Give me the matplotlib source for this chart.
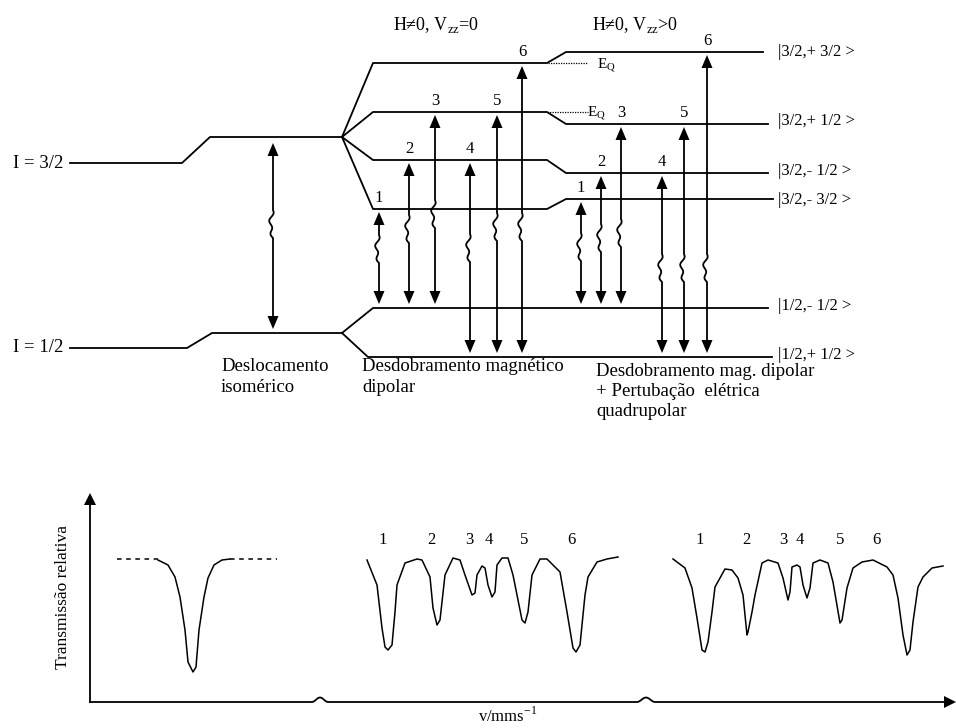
import matplotlib.pyplot as plt
import numpy as np

plt.rcParams['font.family'] = ['Liberation Serif', 'DejaVu Serif']

# --- energy levels (diagram units, y grows downward) ---
upper_free, upper_shift = 163, 137
upper_mag = [63, 112, 160, 209]      # m = +3/2, +1/2, -1/2, -3/2
upper_quad = [52, 124, 173, 199]
lower_free, lower_shift = 348, 333
lower_mag = [308, 357]               # m = -1/2, +1/2
upper_kets = ['|3/2,+ 3/2 >', '|3/2,+ 1/2 >', '|3/2,- 1/2 >', '|3/2,- 3/2 >']
lower_kets = ['|1/2,- 1/2 >', '|1/2,+ 1/2 >']

# transitions 1..6: (upper level index, lower level index)
trans_up = [3, 2, 1, 2, 1, 0]
trans_low = [0, 0, 0, 1, 1, 1]
x_mag = [379, 409, 435, 470, 497, 522]
x_quad = [581, 601, 621, 662, 684, 707]
wave_mag = [249, 229, 214, 248, 227, 227]
wave_quad = [247, 238, 233, 268, 268, 268]

# --- spectra ---
single_x = [158, 168, 175, 180, 185, 188, 193, 196, 199, 204, 208, 214, 222, 230]
single_y = [560, 565, 577, 597, 630, 662, 672, 667, 630, 597, 578, 565, 560, 559]

sext_x = [367, 377, 382, 385, 388, 392, 395, 397, 405, 417, 422, 430, 433, 437, 440,
          445, 453, 460, 465, 472, 475, 477, 482, 485, 488, 492, 495, 497, 502, 508,
          513, 522, 525, 528, 532, 540, 547, 560, 567, 573, 576, 580, 585, 588, 597,
          607, 618]
sext_y = [560, 585, 628, 647, 650, 645, 612, 585, 563, 559, 560, 577, 608, 625, 620,
          575, 558, 560, 575, 595, 593, 575, 566, 568, 585, 597, 592, 565, 558, 558,
          575, 620, 623, 612, 575, 559, 559, 572, 612, 648, 652, 645, 595, 577, 562,
          559, 557]

quad_x = [673, 685, 692, 697, 702, 705, 708, 712, 715, 725, 732, 738, 743, 747, 748,
          752, 755, 762, 768, 778, 783, 788, 790, 792, 797, 800, 803, 807, 810, 813,
          820, 828, 833, 840, 842, 847, 853, 862, 873, 887, 893, 898, 903, 907, 910,
          913, 918, 923, 932, 943]
quad_y = [559, 568, 588, 618, 650, 652, 642, 612, 587, 569, 570, 578, 595, 635, 632,
          612, 595, 563, 560, 563, 578, 600, 592, 567, 565, 567, 585, 598, 588, 563,
          560, 563, 582, 623, 620, 588, 568, 562, 560, 567, 575, 598, 635, 655, 650,
          622, 587, 577, 568, 566]

peak_labels = ['1', '2', '3', '4', '5', '6']
sext_label_x = [383, 431, 469, 489, 524, 571]
quad_label_x = [700, 746, 783, 800, 840, 876]

fig = plt.figure(figsize=(9.56, 7.28), dpi=100)
ax = fig.add_axes([0, 0, 1, 1])
ax.set_xlim(0, 956)
ax.set_ylim(728, 0)
ax.axis('off')

K = 'black'
LW = 1.3


def head(x, tip, up):
    d = 1 if up else -1
    ax.fill([x - 5.5, x + 5.5, x], [tip + 13 * d, tip + 13 * d, tip], color=K, lw=0)


def shaft(x, y0, y1, wave):
    t = np.linspace(0, 1, 30)
    wy = wave - 14 + 28 * t
    wx = x - 2.5 * np.sin(np.pi * t) + 1.5 * np.sin(4 * np.pi * t)
    xs = np.concatenate([[x], wx, [x]])
    ys = np.concatenate([[y0], wy, [y1]])
    ax.plot(xs, ys, color=K, lw=LW)


def double_arrow(x, y_top, y_bot, wave):
    tip_top, tip_bot = y_top + 3, y_bot - 4
    shaft(x, tip_top + 10, tip_bot - 10, wave)
    head(x, tip_top, True)
    head(x, tip_bot, False)


# I = 3/2 levels
ax.plot([70, 182, 210, 342], [upper_free, upper_free, upper_shift, upper_shift], color=K, lw=LW)
ends_up = [763, 768, 768, 773]
for ym, yq, xe in zip(upper_mag, upper_quad, ends_up):
    ax.plot([342, 373, 547, 566, xe], [upper_shift, ym, ym, yq, yq], color=K, lw=LW)

# I = 1/2 levels
ax.plot([70, 187, 212, 342], [lower_free, lower_free, lower_shift, lower_shift], color=K, lw=LW)
ax.plot([342, 373, 768], [lower_shift, lower_mag[0], lower_mag[0]], color=K, lw=LW)
ax.plot([342, 368, 772], [lower_shift, lower_mag[1], lower_mag[1]], color=K, lw=LW)

# quadrupole shift markers
ax.plot([548, 587], [upper_mag[0], upper_mag[0]], color=K, lw=0.9, ls=(0, (1, 1)))
ax.plot([547, 588], [upper_mag[1], upper_mag[1]], color=K, lw=0.9, ls=(0, (1, 1)))
ax.text(597, upper_mag[0] + 2, r'E$_\mathregular{Q}$', fontsize=11, va='center', ha='left')
ax.text(587, upper_mag[1] + 1, r'E$_\mathregular{Q}$', fontsize=11, va='center', ha='left')

# isomer shift arrow
double_arrow(273, upper_shift + 3, lower_shift, 224)

# magnetic and magnetic + quadrupole transitions
for i in range(6):
    u, l = trans_up[i], trans_low[i]
    double_arrow(x_mag[i], upper_mag[u], lower_mag[l], wave_mag[i])
    ax.text(x_mag[i], upper_mag[u] - 11, peak_labels[i], fontsize=12, ha='center', va='center')
    double_arrow(x_quad[i], upper_quad[u], lower_mag[l], wave_quad[i])
    ax.text(x_quad[i], upper_quad[u] - 11, peak_labels[i], fontsize=12, ha='center', va='center')

# labels
ax.text(13, upper_free, 'I = 3/2', fontsize=13.5, ha='left', va='center')
ax.text(13, lower_free, 'I = 1/2', fontsize=13.5, ha='left', va='center')
ax.text(393, 25, r'H≠0, V$_\mathregular{zz}$=0', fontsize=13, ha='left', va='center')
ax.text(592, 25, r'H≠0, V$_\mathregular{zz}$>0', fontsize=13, ha='left', va='center')
for y, s in zip([52, 121, 171, 200], upper_kets):
    ax.text(778, y, s, fontsize=12, ha='left', va='center')
for y, s in zip([306, 355], lower_kets):
    ax.text(778, y, s, fontsize=12, ha='left', va='center')

ax.text(221, 358, 'Deslocamento\nisomérico', fontsize=13.5, ha='left', va='top', linespacing=1.3)
ax.text(362, 358, 'Desdobramento magnético\ndipolar', fontsize=13.5, ha='left', va='top',
        linespacing=1.3)
ax.text(596, 363, 'Desdobramento mag. dipolar\n+ Pertubação  elétrica\nquadrupolar',
        fontsize=13.5, ha='left', va='top', linespacing=1.25)

# spectrum axes
ax.plot([90, 90], [702, 503], color=K, lw=LW)
ax.fill([84, 96, 90], [505, 505, 493], color=K, lw=0)
bump = np.linspace(0, 1, 20)
xs = np.concatenate([[90], 312 + 16 * bump, 637 + 18 * bump, [944]])
ys = np.concatenate([[702], 702 - 4.5 * np.sin(np.pi * bump) ** 2,
                     702 - 4.5 * np.sin(np.pi * bump) ** 2, [702]])
ax.plot(xs, ys, color=K, lw=LW)
ax.fill([944, 944, 956], [696, 708, 702], color=K, lw=0)

# single line
ax.plot(single_x, single_y, color=K, lw=1.1)
ax.plot([117, single_x[0]], [single_y[-1], single_y[-1]], color=K, lw=1.1, ls=(0, (3, 3)))
ax.plot([single_x[-1], 277], [single_y[-1], single_y[-1]], color=K, lw=1.1, ls=(0, (3, 3)))

# sextets
ax.plot(sext_x, sext_y, color=K, lw=1.1)
ax.plot(quad_x, quad_y, color=K, lw=1.1)
for s, xa, xb in zip(peak_labels, sext_label_x, quad_label_x):
    ax.text(xa, 540, s, fontsize=12, ha='center', va='center')
    ax.text(xb, 540, s, fontsize=12, ha='center', va='center')

ax.text(63, 597, 'Transmissão relativa', fontsize=12.5, rotation=90, ha='center', va='center')
ax.text(478, 716, r'v/mms$^\mathregular{-1}$', fontsize=12, ha='left', va='center')

fig.savefig('out.png', dpi=100)
